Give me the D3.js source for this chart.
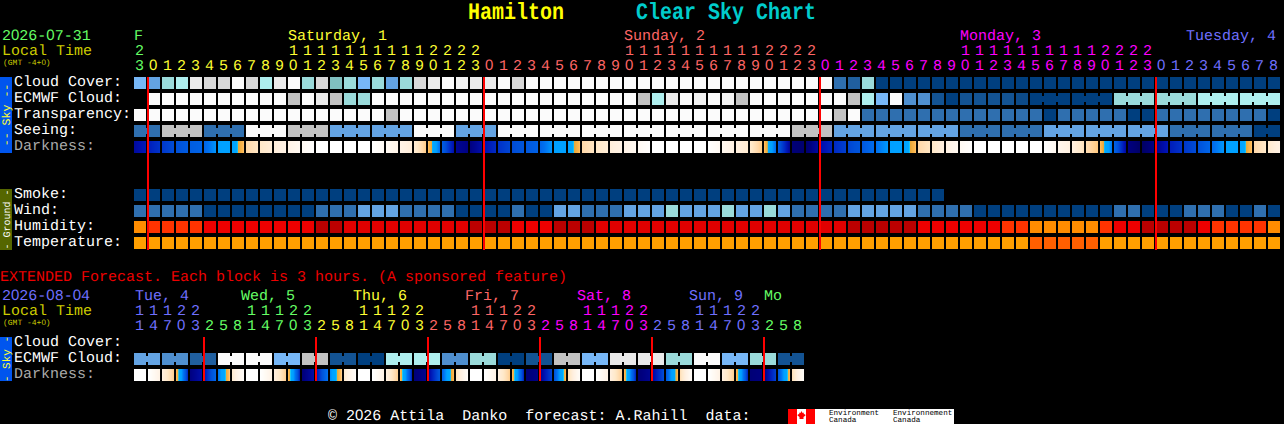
<!DOCTYPE html>
<html><head><meta charset="utf-8">
<script src="https://cdn.jsdelivr.net/npm/d3@7/dist/d3.min.js"></script>
<style>
@font-face{font-family:"PlainZero";src:local("Liberation Sans");unicode-range:U+30}
html,body{margin:0;padding:0;background:#000;overflow:hidden}
svg{display:block}
text{font-family:"PlainZero","Liberation Mono",monospace;font-size:15px;white-space:pre;text-rendering:geometricPrecision}
</style></head><body>
<script>
const W=1284,H=424;
const hourLabels=[23,...d3.range(24),...d3.range(24),...d3.range(24),...d3.range(9)];
const extLabels=[11,14,17,20,23,2,5,8,11,14,17,20,23,2,5,8,11,14,17,20,23,2,5,8,11,14,17,20,23,2,5,8,11,14,17,20,23,2,5,8,11,14,17,20,23,2,5,8];
const cloudCover=[50,40,60,70,90,85,85,100,85,70,90,100,60,85,65,60,50,60,40,60,85,90,100,95,90,90,100,85,100,100,100,100,100,100,100,100,100,100,100,100,100,100,100,100,100,100,100,100,100,100,20,15,60,...Array(29).fill(0)];
const ecmwfCloud=[null,100,100,100,100,100,100,100,100,100,100,80,100,90,80,60,60,100,100,100,100,100,100,100,100,100,100,100,100,100,100,100,100,100,100,100,80,70,90,100,95,100,95,80,100,100,100,100,100,100,100,80,70,50,100,30,30,10,0,10,10,10,10,5,0,0,0,0,0,0,60,60,60,60,60,60,70,70,70,70,70,70];
const transparency=[100,100,100,100,100,100,100,100,100,100,100,100,100,100,100,100,100,100,80,100,100,100,100,100,100,100,100,100,100,100,100,100,100,100,100,100,100,100,100,100,100,100,100,100,100,100,100,100,100,100,80,100,20,20,20,20,20,20,20,20,20,20,20,20,20,0,20,20,20,20,20,0,0,20,20,20,20,20,20,20,20,0];
const seeing=[20,20,80,80,80,20,20,20,100,100,100,80,80,80,40,40,40,40,40,40,100,100,100,40,40,40,100,100,100,100,100,100,100,100,100,100,100,100,100,100,100,100,100,100,100,100,100,80,80,80,40,40,40,40,40,40,40,40,40,20,20,20,20,20,20,40,40,40,40,40,40,40,40,40,20,20,20,20,20,20,0,0];
const darkness=[0.8,1.2,1.6,2,2.4,2.6,3.9,4.1,6.3,6.6,6.9,7.2,7.6,8,8,8,8,8,7.6,7.2,6.8,6,2.4,0.7,0.5,1,1.5,1.9,2.2,2.6,3.9,4.1,6.3,6.6,6.9,7.2,7.6,8,8,8,8,8,7.5,7,6.7,6,2.3,0.4,0.3,0.9,1.4,1.8,2.2,3,3.9,4.1,6.3,6.6,7.1,7.6,8,8,8,8,8,8,7.4,7,6.4,6,2.6,0.5,0.2,0.6,1.2,1.6,2,2.8,3.9,4.1,6.3,6.7,7.2];
const smoke=Array(58).fill(0);
const wind=[20,20,20,20,20,0,0,0,0,0,0,0,0,20,20,20,40,40,40,20,20,20,20,0,0,0,0,20,0,0,40,40,20,20,20,40,40,40,60,40,40,40,60,40,40,60,40,20,20,20,20,40,40,40,40,40,20,20,20,20,0,0,0,0,0,0,0,0,0,0,20,20,0,0,0,20,20,20,0,0,20,0];
const humidity=[3,2,2,2,2,1.5,1.5,1.5,1.5,1.5,1.5,1.5,1.5,0,0,1,1,1,1,1,1,1,1,1,0,0,0,1.5,1.5,1.5,0,0,0,1,1,1,1,1,1,1,1,1,1,1,1,1,1,1,1,1,1,0,0,0,0,0,1.5,1.5,1.5,1.5,1.5,1.5,2,2,3,3,3,3,3,2,1.5,1.5,0,0,0,0,1.5,2,2,2,2,3];
const temperature=[...Array(64).fill(0),1,1,1,1,1,...Array(13).fill(0)];
const extEcmwf=[40,40,30,30,15,15,100,100,100,100,50,50,80,80,10,10,0,0,70,70,70,70,30,30,60,60,0,0,10,10,80,80,50,50,90,90,90,90,60,60,100,100,50,50,60,60,10,10];
const extDarkness=[8,8,7,6,0.5,1,3,6.7,8,8,7,6,0.4,1,3.4,6.7,8,8,7,6,0.4,0.7,2.5,6.5,8,8,7,6,0.4,0.6,2,6.4,8,8,7,6,0.4,0.7,2.2,6.4,8,8,7,6,0.4,0.5,2,6.4,8];
const topDays=[["F",0,"#66ff66"],["Saturday, 1",11,"#ffff33"],["Sunday, 2",35,"#ff6666"],["Monday, 3",59,"#ff00ff"],["Tuesday, 4",75.14,"#7070ff"]];
const extDays=[["Tue, 4",0.07,"#7070ff"],["Wed, 5",7.64,"#66ff66"],["Thu, 6",15.64,"#ffff33"],["Fri, 7",23.64,"#ff6666"],["Sat, 8",31.64,"#ff00ff"],["Sun, 9",39.64,"#7070ff"],["Mo",45,"#66ff66"]];

// colour scales
const cloudDomain=[0,5,10,15,20,30,40,50,60,65,70,80,85,90,95,100];
const cloudRange=["#003f7f","#0c4a88","#135393","#205f9f","#2f6faf","#4f8fcf","#63a3e3","#77b7f7","#9adada","#80c0c0","#aeeeee","#c2c2c2","#d8d8d8","#eaeaea","#f2f2f2","#fbfbfb"];
const cloudColor=d3.scaleOrdinal(cloudDomain,cloudRange);
const humColor=d3.scaleOrdinal([0,1,1.5,2,3],["#bb0000","#e00000","#ee0000","#ff3300","#ff8c00"]);
const tempColor=d3.scaleOrdinal([0,1],["#ff9f00","#ff5f00"]);
const darkColor=d3.scaleLinear()
 .domain([0,0.5,1,1.5,2,3,3.9,4.8,5,5.1,5.8,6.3,6.6,7,7.5,8])
 .range(["#000050","#000080","#0010b0","#0030c8","#0050d8","#0070f0","#00a0ff","#00a8ff","#20c8f0","#e8a838","#ffb850","#ffd8a8","#ffe8c8","#fff0e0","#fff8f0","#ffffff"])
 .clamp(true);

const x=d3.scaleLinear().domain([0,1]).range([134,148]);
const CELL=12,PITCH=14;
const svg=d3.select("body").append("svg").attr("width",W).attr("height",H).attr("viewBox",`0 0 ${W} ${H}`);
svg.append("rect").attr("width",W).attr("height",H).attr("fill","#000");

function cells(g,vals,y,colour){
 g.selectAll(null).data(vals.map((v,i)=>({v,i})).filter(d=>d.v!==null)).join("rect")
  .attr("x",d=>x(d.i)).attr("y",y).attr("width",CELL).attr("height",CELL).attr("fill",d=>colour(d.v));
}
function necks(g,vals,y,colour,blockOf){
 const links=[];
 for(let i=0;i<vals.length-1;i++) if(vals[i]!==null&&blockOf(i)===blockOf(i+1)&&vals[i]===vals[i+1]) links.push({i,v:vals[i]});
 g.selectAll(null).data(links).join("rect").attr("x",d=>x(d.i)+CELL).attr("y",y+3).attr("width",2).attr("height",6).attr("fill",d=>colour(d.v));
}
function dark(g,vals,y){
 const n=vals.length-1,data=[];
 for(let i=0;i<n;i++) for(let p=0;p<CELL;p++){ const f=(p+.5)/PITCH; data.push({i,p,v:vals[i]+(vals[i+1]-vals[i])*f}); }
 g.selectAll(null).data(data).join("rect").attr("x",d=>x(d.i)+d.p).attr("y",y).attr("width",1.02).attr("height",CELL).attr("fill",d=>darkColor(d.v));
}
const t=(s,px,py,col,o={})=>{const e=svg.append("text").attr("x",px).attr("y",py).attr("fill",col).text(s);for(const k in o)e.style(k,o[k]);return e;};
const title=(s,px,col)=>svg.append("text").attr("transform",`translate(${px},19) scale(1,1.18)`).attr("fill",col).style("font-size","20px").style("font-weight","bold").text(s);

// title
title("Hamilton",468,"#ffff00");
title("Clear Sky Chart",636,"#00cccc");

// top header
t("2026-07-31",2,40,"#66ff66");t("Local Time",2,55,"#cccc00");
t("(GMT -4+0)",3,65,"#cccc00",{"font-size":"8px"});
topDays.forEach(d=>t(d[0],x(d[1]),40,d[2]));
function dayCol(i){return i==0?"#66ff66":i<25?"#ffff33":i<49?"#ff6666":i<73?"#ff00ff":"#7070ff";}
hourLabels.forEach((h,i)=>{
 const s=String(h),px=x(i)+1;
 if(s.length>1) t(s[0],px,55,dayCol(i));
 t(s[s.length-1],px,70,dayCol(i));
});

// top rows
const rowY={cloud:77,ecmwf:93,trans:109,see:125,dark:141,smoke:189,wind:205,hum:221,temp:237};
const labels=[["Cloud Cover:",86,"#fff"],["ECMWF Cloud:",102,"#fff"],["Transparency:",118,"#fff"],["Seeing:",134,"#fff"],["Darkness:",150,"#aaa"],["Smoke:",198,"#fff"],["Wind:",214,"#fff"],["Humidity:",230,"#fff"],["Temperature:",246,"#fff"]];
labels.forEach(l=>t(l[0],14,l[1],l[2]));
const g=svg.append("g");
cells(g.append("g"),cloudCover,rowY.cloud,cloudColor);
cells(g.append("g"),ecmwfCloud,rowY.ecmwf,cloudColor);
const ecBlock=i=>i<64?-i:Math.floor((i-64)/3);
necks(g.append("g"),ecmwfCloud,rowY.ecmwf,cloudColor,ecBlock);
cells(g.append("g"),transparency,rowY.trans,cloudColor);
cells(g.append("g"),seeing,rowY.see,cloudColor);
necks(g.append("g"),seeing,rowY.see,cloudColor,i=>Math.floor((i+1)/3));
dark(g.append("g"),darkness,rowY.dark);
cells(g.append("g"),smoke,rowY.smoke,cloudColor);
cells(g.append("g"),wind,rowY.wind,cloudColor);
cells(g.append("g"),humidity,rowY.hum,humColor);
cells(g.append("g"),temperature,rowY.temp,tempColor);

// red midnight lines
[1,25,49,73].forEach(c=>svg.append("rect").attr("x",x(c)-1).attr("y",77).attr("width",2).attr("height",173).attr("fill","#ff0000"));

// side bars
function side(y,h,col,dash,word,tc,dfs,wfs){
 svg.append("rect").attr("x",0).attr("y",y).attr("width",12).attr("height",h).attr("fill",col);
 const e=svg.append("text").attr("transform",`translate(9.5,${y+h/2}) rotate(-90)`).attr("text-anchor","middle").attr("fill",tc);
 e.append("tspan").style("font-size",dfs).text(dash+" ");
 e.append("tspan").style("font-size",wfs).text(word);
 e.append("tspan").style("font-size",dfs).text(" "+dash);
}
side(77,76,"#0055ee","--","Sky","#ffff33","11.6px","11.6px");
side(189,61,"#556600","-","Ground","#ffffff","10px","10px");
side(337,44,"#0055ee","-","Sky","#ffff33","11px","11px");

// extended
t("EXTENDED Forecast. Each block is 3 hours. (A sponsored feature)",0,281,"#ee0000");
t("2026-08-04",2,300,"#7070ff");t("Local Time",2,315,"#cccc00");
t("(GMT -4+0)",3,325,"#cccc00",{"font-size":"8px"});
extDays.forEach(d=>t(d[0],x(d[1]),300,d[2]));
function extCol(i){const k=["#7070ff","#66ff66","#ffff33","#ff6666","#ff00ff","#7070ff","#66ff66"];return k[Math.floor((i+3)/8)];}
extLabels.forEach((h,i)=>{
 const s=String(h),px=x(i)+1;
 if(s.length>1) t(s[0],px,315,extCol(i));
 t(s[s.length-1],px,330,extCol(i));
});
[["Cloud Cover:",346,"#fff"],["ECMWF Cloud:",362,"#fff"],["Darkness:",378,"#aaa"]].forEach(l=>t(l[0],14,l[1],l[2]));
cells(g.append("g"),extEcmwf,353,cloudColor);
necks(g.append("g"),extEcmwf,353,cloudColor,i=>Math.floor(i/2));
dark(g.append("g"),extDarkness,369);
[5,13,21,29,37,45].forEach(c=>svg.append("rect").attr("x",x(c)-1).attr("y",337).attr("width",2).attr("height",44).attr("fill","#ff0000"));

// footer
t("© 2026 Attila  Danko  forecast: A.Rahill  data:",328,420,"#fff");
svg.append("rect").attr("x",788).attr("y",409).attr("width",166).attr("height",15).attr("fill","#fff");
svg.append("rect").attr("x",788).attr("y",409).attr("width",9).attr("height",15).attr("fill","#f00");
svg.append("rect").attr("x",806).attr("y",409).attr("width",9).attr("height",15).attr("fill","#f00");
svg.append("path").attr("d","M801.5 411l1 2 1-.5 .5 2 1-.5 .5 1.5-2 1.5v2h-4v-2l-2-1.5 .5-1.5 1 .5 .5-2 1 .5z").attr("fill","#f00");
[["Environment",829],["Environnement",893]].forEach(d=>t(d[0],d[1],415,"#000",{"font-size":"7.6px"}));
[["Canada",829],["Canada",893]].forEach(d=>t(d[0],d[1],422,"#000",{"font-size":"7.6px"}));
</script></body></html>
